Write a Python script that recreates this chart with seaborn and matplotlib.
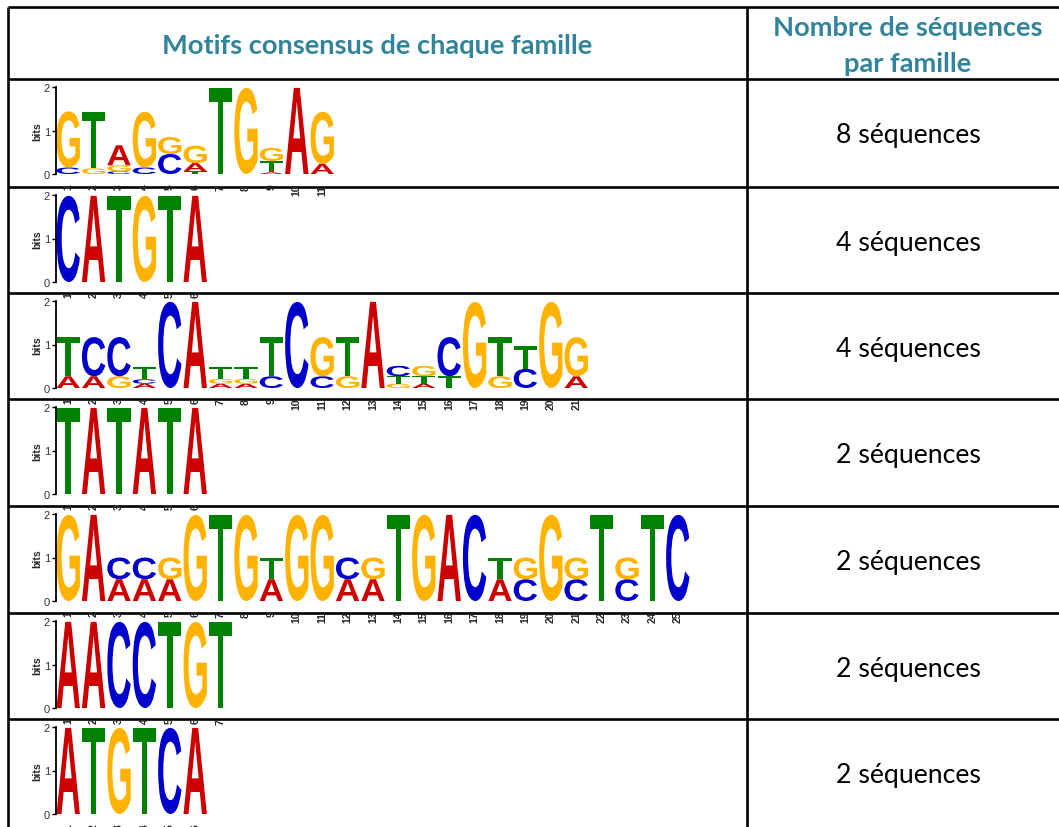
import matplotlib
matplotlib.use("Agg")
import matplotlib.pyplot as plt
import seaborn as sns
from matplotlib.textpath import TextPath
from matplotlib.patches import PathPatch
from matplotlib.font_manager import FontProperties
from matplotlib.transforms import Affine2D

sns.set_theme(style="white")
plt.rcParams['font.family'] = ['Lato', 'DejaVu Sans']

# each motif: one list per position, letters from bottom to top with their height in bits
motif_1 = [
    [('C', 0.15), ('G', 1.29)],
    [('G', 0.13), ('T', 1.30)],
    [('C', 0.06), ('G', 0.14), ('A', 0.46)],
    [('C', 0.15), ('G', 1.28)],
    [('C', 0.46), ('G', 0.39)],
    [('T', 0.06), ('A', 0.19), ('G', 0.40)],
    [('T', 1.98)],
    [('G', 1.98)],
    [('A', 0.04), ('T', 0.26), ('G', 0.30)],
    [('A', 1.98)],
    [('A', 0.23), ('G', 1.20)],
]
motif_2 = [[('C', 1.98)], [('A', 1.98)], [('T', 1.98)], [('G', 1.98)], [('T', 1.98)], [('A', 1.98)]]
motif_3 = [
    [('A', 0.27), ('T', 0.90)],
    [('A', 0.27), ('C', 0.90)],
    [('G', 0.27), ('C', 0.90)],
    [('A', 0.10), ('C', 0.10), ('T', 0.28)],
    [('C', 1.98)],
    [('A', 1.98)],
    [('A', 0.10), ('G', 0.11), ('T', 0.27)],
    [('A', 0.10), ('G', 0.11), ('T', 0.27)],
    [('C', 0.27), ('T', 0.90)],
    [('C', 1.98)],
    [('C', 0.27), ('G', 0.90)],
    [('G', 0.27), ('T', 0.90)],
    [('A', 1.98)],
    [('G', 0.10), ('T', 0.17), ('C', 0.24)],
    [('A', 0.10), ('T', 0.17), ('G', 0.24)],
    [('T', 0.27), ('C', 0.90)],
    [('G', 1.98)],
    [('G', 0.27), ('T', 0.90)],
    [('C', 0.44), ('T', 0.53)],
    [('G', 1.98)],
    [('A', 0.27), ('G', 0.90)],
]
motif_4 = [[('T', 1.98)], [('A', 1.98)], [('T', 1.98)], [('A', 1.98)], [('T', 1.98)], [('A', 1.98)]]
motif_5 = [
    [('G', 1.98)], [('A', 1.98)],
    [('A', 0.50), ('C', 0.50)],
    [('A', 0.50), ('C', 0.50)],
    [('A', 0.50), ('G', 0.50)],
    [('G', 1.98)], [('T', 1.98)], [('G', 1.98)],
    [('A', 0.50), ('T', 0.50)],
    [('G', 1.98)], [('G', 1.98)],
    [('A', 0.50), ('C', 0.50)],
    [('A', 0.50), ('G', 0.50)],
    [('T', 1.98)], [('G', 1.98)], [('A', 1.98)], [('C', 1.98)],
    [('A', 0.50), ('T', 0.50)],
    [('C', 0.50), ('G', 0.50)],
    [('G', 1.98)],
    [('C', 0.50), ('G', 0.50)],
    [('T', 1.98)],
    [('C', 0.50), ('G', 0.50)],
    [('T', 1.98)], [('C', 1.98)],
]
motif_6 = [[('A', 1.98)], [('A', 1.98)], [('C', 1.98)], [('C', 1.98)], [('T', 1.98)], [('G', 1.98)], [('T', 1.98)]]
motif_7 = [[('A', 1.98)], [('T', 1.98)], [('G', 1.98)], [('T', 1.98)], [('C', 1.98)], [('A', 1.98)]]

motifs = [motif_1, motif_2, motif_3, motif_4, motif_5, motif_6, motif_7]
counts = [8, 4, 4, 2, 2, 2, 2]

header_left = "Motifs consensus de chaque famille"
header_right = "Nombre de séquences\npar famille"

base_colors = {'A': '#CC0000', 'C': '#0000CC', 'G': '#FFB300', 'T': '#008000'}
teal = '#31849B'

W, H = 1059, 828
row_tops = [80, 188, 294, 400, 507, 614, 720]
col_split = 747
right_center = 908
pos_w = 25.4

fig = plt.figure(figsize=(W / 100, H / 100), dpi=100)
bg = fig.add_axes([0, 0, 1, 1])
bg.set_xlim(0, W)
bg.set_ylim(H, 0)
bg.axis('off')

# table grid
for y in [8] + row_tops:
    bg.plot([8, W], [y, y], color='black', lw=1.9, solid_capstyle='butt')
bg.plot([8, 8], [8, H], color='black', lw=1.9, solid_capstyle='butt')
bg.plot([col_split, col_split], [8, H], color='black', lw=1.9, solid_capstyle='butt')

bg.text((8 + col_split) / 2, 46, header_left, ha='center', va='center',
        color=teal, fontsize=19.6, fontweight='bold')
bg.text(right_center, 46, header_right, ha='center', va='center',
        color=teal, fontsize=19.6, fontweight='bold', linespacing=1.55)

letter_font = FontProperties(family='Liberation Sans', weight='bold')


def draw_letter(ax, letter, x, y0, h, width=0.92):
    tp = TextPath((0, 0), letter, size=1, prop=letter_font)
    bb = tp.get_extents()
    tr = (Affine2D()
          .translate(-bb.x0, -bb.y0)
          .scale(width / bb.width, h / bb.height)
          .translate(x - width / 2, y0))
    path = tr.transform_path(tp)
    ax.add_patch(PathPatch(path, facecolor=base_colors[letter], edgecolor='none',
                           transform=ax.transData))


for top, motif, n in zip(row_tops, motifs, counts):
    npos = len(motif)
    y_zero = top + 95
    y_two = top + 8
    left = 55.5
    axw = npos * pos_w
    ax = fig.add_axes([left / W, 1 - y_zero / H, axw / W, (y_zero - y_two) / H])
    ax.set_xlim(0.5, npos + 0.5)
    ax.set_ylim(0, 2)
    ax.patch.set_alpha(0)
    for i, stack in enumerate(motif, start=1):
        y0 = 0
        for letter, h in stack:
            draw_letter(ax, letter, i, y0, h)
            y0 += h
    sns.despine(ax=ax, top=True, right=True, bottom=True, left=False)
    ax.spines['left'].set_color('black')
    ax.spines['left'].set_linewidth(1.3)
    ax.set_yticks([0, 1, 2])
    ax.set_yticklabels(['0', '1', '2'], fontsize=8, family='Liberation Sans', color='#333333')
    ax.tick_params(axis='y', left=True, length=3, width=1, pad=1, color='black')
    ax.set_xticks(range(1, npos + 1))
    ax.set_xticklabels([str(k) for k in range(1, npos + 1)], rotation=90, fontsize=7.5,
                       fontweight='bold', family='Liberation Sans')
    ax.tick_params(axis='x', bottom=False, pad=1)
    ax.set_ylabel('bits', fontsize=7.5, fontweight='bold', family='Liberation Sans', labelpad=1)
    ax.grid(False)

    bg.text(right_center, top + 56, f"{n} séquences", ha='center', va='center',
            color='black', fontsize=19.2)

fig.savefig('out.png', dpi=100)
